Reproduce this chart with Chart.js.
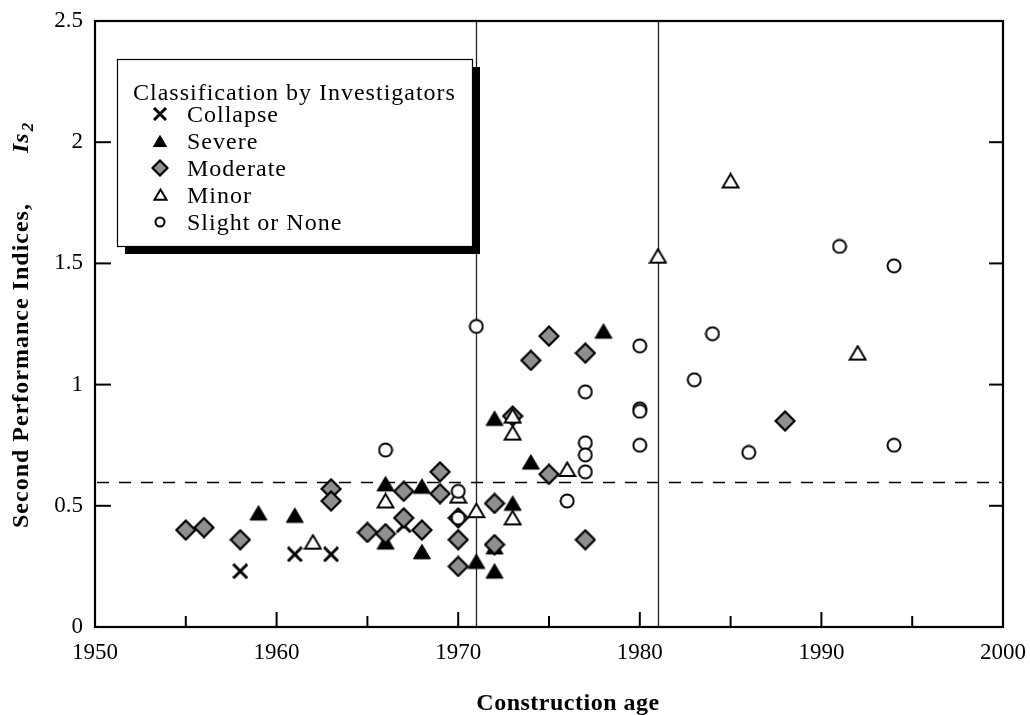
<!DOCTYPE html>
<html><head><meta charset="utf-8">
<script src="https://cdn.jsdelivr.net/npm/chart.js@4"></script>
<style>html,body{margin:0;padding:0;background:#fff}#wrap{width:1030px;height:715px}</style>
</head><body><div id="wrap"><canvas id="c" width="1030" height="715"></canvas></div>
<script>
// ---- data (construction year, Is2) ----
const collapseYears = [1958, 1961, 1963, 1967];
const collapseIs    = [0.23, 0.30, 0.30, 0.42];
const severeYears = [1959, 1961, 1966, 1966, 1968, 1968, 1971, 1972, 1972, 1972, 1973, 1974, 1978];
const severeIs    = [0.47, 0.46, 0.59, 0.35, 0.58, 0.31, 0.27, 0.23, 0.33, 0.86, 0.51, 0.68, 1.22];
const moderateYears = [1955, 1956, 1958, 1963, 1963, 1965, 1966, 1967, 1967, 1968, 1969, 1969, 1970, 1970, 1970, 1972, 1972, 1973, 1974, 1975, 1975, 1977, 1977, 1988];
const moderateIs    = [0.40, 0.41, 0.36, 0.57, 0.52, 0.39, 0.385, 0.56, 0.45, 0.40, 0.55, 0.64, 0.45, 0.36, 0.25, 0.51, 0.34, 0.87, 1.10, 1.20, 0.63, 1.13, 0.36, 0.85];
const minorYears = [1962, 1966, 1970, 1971, 1973, 1973, 1973, 1976, 1981, 1985, 1992];
const minorIs    = [0.35, 0.52, 0.54, 0.48, 0.45, 0.87, 0.80, 0.65, 1.53, 1.84, 1.13];
const slightYears = [1966, 1970, 1970, 1971, 1976, 1977, 1977, 1977, 1977, 1980, 1980, 1980, 1980, 1983, 1984, 1986, 1991, 1994, 1994];
const slightIs    = [0.73, 0.56, 0.45, 1.24, 0.52, 0.97, 0.76, 0.71, 0.64, 1.16, 0.90, 0.89, 0.75, 1.02, 1.21, 0.72, 1.57, 1.49, 0.75];

const seriesNames = ['Collapse', 'Severe', 'Moderate', 'Minor', 'Slight or None'];
const legendTitle = 'Classification by Investigators';
const xTickValues = [1950, 1960, 1970, 1980, 1990, 2000];
const xTickLabels = ['1950', '1960', '1970', '1980', '1990', '2000'];
const yTickValues = [0, 0.5, 1, 1.5, 2, 2.5];
const yTickLabels = ['0', '0.5', '1', '1.5', '2', '2.5'];
const codeRevisionYears = [1971, 1981];
const thresholdIs = 0.6;
const xTitle = 'Construction age';
const yTitleMain = 'Second Performance Indices,';
const yTitleSym = 'Is';
const yTitleSub = '2';

// ---- marker images ----
function marker(type, s) {
  const c = document.createElement('canvas');
  const ctx = c.getContext('2d');
  if (type === 'x') {
    c.width = c.height = Math.ceil(s + 2);
    const m = 1, e = s + 1;
    ctx.strokeStyle = '#000'; ctx.lineWidth = 3;
    ctx.beginPath(); ctx.moveTo(m, m); ctx.lineTo(e, e); ctx.moveTo(e, m); ctx.lineTo(m, e); ctx.stroke();
  } else if (type === 'tri' || type === 'otri') {
    const w = s, h = s * 0.85;
    c.width = Math.ceil(w + 3); c.height = Math.ceil(h + 3);
    const cx = c.width / 2, top = 1.5, bot = h + 1.5;
    ctx.beginPath(); ctx.moveTo(cx, top); ctx.lineTo(cx + w / 2, bot); ctx.lineTo(cx - w / 2, bot); ctx.closePath();
    ctx.lineJoin = 'miter';
    if (type === 'tri') { ctx.fillStyle = '#000'; ctx.fill(); ctx.lineWidth = 1; ctx.strokeStyle = '#000'; ctx.stroke(); }
    else { ctx.fillStyle = '#fff'; ctx.fill(); ctx.lineWidth = 2; ctx.strokeStyle = '#000'; ctx.stroke(); }
  } else if (type === 'dia') {
    c.width = c.height = Math.ceil(s + 3);
    const cx = c.width / 2, r = s / 2;
    ctx.beginPath(); ctx.moveTo(cx, cx - r); ctx.lineTo(cx + r, cx); ctx.lineTo(cx, cx + r); ctx.lineTo(cx - r, cx); ctx.closePath();
    ctx.fillStyle = '#8f8f8f'; ctx.fill(); ctx.lineWidth = 2.2; ctx.strokeStyle = '#000'; ctx.lineJoin = 'miter'; ctx.stroke();
  } else if (type === 'circ') {
    c.width = c.height = Math.ceil(s + 3);
    const cx = c.width / 2;
    ctx.beginPath(); ctx.arc(cx, cx, s / 2, 0, Math.PI * 2);
    ctx.fillStyle = '#fff'; ctx.fill(); ctx.lineWidth = 2; ctx.strokeStyle = '#000'; ctx.stroke();
  }
  return c;
}
const types = ['x', 'tri', 'dia', 'otri', 'circ'];
const plotSizes = [14, 17, 19, 16, 13];
const legendSizes = [12, 13, 15, 12, 9];
const plotMarkers = types.map((t, i) => marker(t, plotSizes[i]));
const legendMarkers = types.map((t, i) => marker(t, legendSizes[i]));

const pts = (xs, ys) => xs.map((x, i) => ({ x, y: ys[i] }));
const allData = [pts(collapseYears, collapseIs), pts(severeYears, severeIs), pts(moderateYears, moderateIs), pts(minorYears, minorIs), pts(slightYears, slightIs)];

const SERIF = '"Liberation Serif", "Times New Roman", serif';

const overlay = {
  id: 'overlay',
  beforeDatasetsDraw(chart) {
    const { ctx, chartArea: a, scales: { x, y } } = chart;
    ctx.save();
    ctx.strokeStyle = '#222'; ctx.lineWidth = 1.3;
    codeRevisionYears.forEach(yr => {
      const px = Math.round(x.getPixelForValue(yr)) + 0.5;
      ctx.beginPath(); ctx.moveTo(px, a.top); ctx.lineTo(px, a.bottom); ctx.stroke();
    });
    const py = Math.round(y.getPixelForValue(thresholdIs)) + 0.5;
    ctx.setLineDash([12, 10]); ctx.lineWidth = 1.5; ctx.strokeStyle = '#000';
    ctx.beginPath(); ctx.moveTo(a.left + 2, py); ctx.lineTo(a.right, py); ctx.stroke();
    ctx.setLineDash([]);
    ctx.restore();
  },
  afterDraw(chart) {
    const { ctx, chartArea: a, scales: { x, y } } = chart;
    ctx.save();
    ctx.strokeStyle = '#000'; ctx.lineWidth = 2.2;
    ctx.strokeRect(a.left, a.top, a.right - a.left, a.bottom - a.top);
    ctx.lineWidth = 2;
    for (let yr = 1955; yr < 2000; yr += 5) {
      const px = x.getPixelForValue(yr);
      const len = yr % 10 === 0 ? 15 : 11;
      ctx.beginPath(); ctx.moveTo(px, a.bottom); ctx.lineTo(px, a.bottom - len); ctx.stroke();
    }
    for (let v = 0.5; v < 2.5; v += 0.5) {
      const py = y.getPixelForValue(v);
      ctx.beginPath(); ctx.moveTo(a.left, py); ctx.lineTo(a.left + 16, py); ctx.stroke();
      ctx.beginPath(); ctx.moveTo(a.right, py); ctx.lineTo(a.right - 14, py); ctx.stroke();
    }
    // y title (rotated)
    ctx.fillStyle = '#000';
    ctx.translate(22, 323);
    ctx.rotate(-Math.PI / 2);
    ctx.textBaseline = 'middle';
    ctx.letterSpacing = '1px';
    ctx.font = 'bold 24px ' + SERIF;
    const w1 = ctx.measureText(yTitleMain).width;
    const gap = 50;
    ctx.font = 'bold italic 24px ' + SERIF;
    const w2 = ctx.measureText(yTitleSym).width;
    let sx = -205;
    ctx.font = 'bold 24px ' + SERIF; ctx.fillText(yTitleMain, sx, 0); sx += w1 + gap;
    ctx.font = 'bold italic 24px ' + SERIF; ctx.fillText(yTitleSym, sx, 0); sx += w2;
    ctx.font = 'bold italic 17px ' + SERIF; ctx.fillText(yTitleSub, sx + 1, 7);
    ctx.setTransform(1, 0, 0, 1, 0, 0);
    // x title
    ctx.letterSpacing = '0.5px';
    ctx.font = 'bold 24px ' + SERIF; ctx.textAlign = 'center'; ctx.textBaseline = 'alphabetic';
    ctx.fillText(xTitle, 568, 710);
    // legend
    const bx = 117, by = 59, bw = 355, bh = 187, sh = 8;
    ctx.fillStyle = '#000'; ctx.fillRect(bx + sh, by + sh, bw, bh);
    ctx.fillStyle = '#fff'; ctx.fillRect(bx, by, bw, bh);
    ctx.strokeStyle = '#000'; ctx.lineWidth = 1.2; ctx.strokeRect(bx + 0.5, by + 0.5, bw, bh);
    ctx.fillStyle = '#000'; ctx.textAlign = 'left'; ctx.textBaseline = 'alphabetic';
    ctx.letterSpacing = '1px';
    ctx.font = '24px ' + SERIF;
    ctx.fillText(legendTitle, 133, 100);
    const rowY = [114, 141, 168, 195, 222];
    seriesNames.forEach((n, i) => {
      const m = legendMarkers[i];
      ctx.drawImage(m, Math.round(160 - m.width / 2), Math.round(rowY[i] - m.height / 2));
      ctx.fillText(n, 187, rowY[i] + 8);
    });
    ctx.restore();
  }
};

new Chart(document.getElementById('c'), {
  type: 'scatter',
  data: {
    datasets: allData.map((d, i) => ({
      label: seriesNames[i],
      data: d,
      pointStyle: plotMarkers[i],
      pointRadius: 8,
      pointHoverRadius: 8,
      order: 4 - i,
      showLine: false
    }))
  },
  options: {
    responsive: false,
    devicePixelRatio: 1,
    animation: false,
    layout: { padding: { top: 21, right: 27, left: 0, bottom: 0 } },
    plugins: { legend: { display: false }, tooltip: { enabled: false } },
    scales: {
      x: {
        type: 'linear', min: 1950, max: 2000,
        grid: { display: false, drawTicks: false, tickLength: 0 },
        border: { display: false },
        afterBuildTicks: s => { s.ticks = xTickValues.map(v => ({ value: v })); },
        afterFit: s => { s.height = 88; s.paddingLeft = 0; s.paddingRight = 0; },
        ticks: {
          padding: 12, color: '#000', font: { family: SERIF, size: 23 },
          maxRotation: 0, autoSkip: false,
          callback: v => xTickLabels[xTickValues.indexOf(v)]
        }
      },
      y: {
        type: 'linear', min: 0, max: 2.5,
        grid: { display: false, drawTicks: false, tickLength: 0 },
        border: { display: false },
        afterBuildTicks: s => { s.ticks = yTickValues.map(v => ({ value: v })); },
        afterFit: s => { s.width = 95; s.paddingTop = 0; s.paddingBottom = 0; },
        ticks: {
          padding: 12, color: '#000', font: { family: SERIF, size: 23 },
          autoSkip: false,
          callback: v => yTickLabels[yTickValues.indexOf(v)]
        }
      }
    }
  },
  plugins: [overlay]
});
</script>
</body></html>
